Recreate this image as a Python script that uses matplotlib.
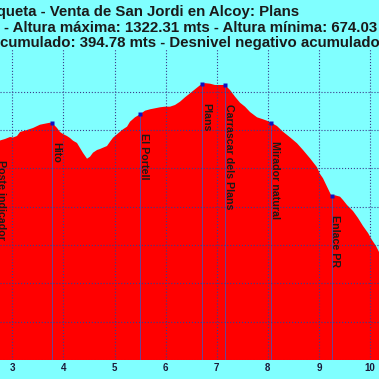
import numpy as np
import matplotlib
matplotlib.use("Agg")
from matplotlib import pyplot as plt

# profile: distance (km) / altitude (m)
dist_km = [2.661, 2.759, 2.857, 2.955, 3.014, 3.092, 3.151, 3.288, 3.405, 3.542,
           3.679, 3.738, 3.783, 3.875, 3.933, 3.992, 4.070, 4.129, 4.188, 4.266,
           4.325, 4.384, 4.462, 4.521, 4.579, 4.658, 4.716, 4.775, 4.853, 4.912,
           4.971, 5.049, 5.108, 5.166, 5.245, 5.303, 5.401, 5.499, 5.597, 5.695,
           5.793, 5.890, 5.988, 6.086, 6.184, 6.282, 6.380, 6.478, 6.575, 6.673,
           6.712, 6.771, 6.869, 6.967, 7.065, 7.162, 7.260, 7.358, 7.456, 7.554,
           7.652, 7.789, 7.906, 7.984, 8.063, 8.180, 8.297, 8.434, 8.572, 8.689,
           8.826, 8.963, 9.022, 9.080, 9.159, 9.247, 9.315, 9.413, 9.472, 9.550,
           9.667, 9.765, 9.863, 9.961, 10.039, 10.117, 10.176, 10.274]
alt_m = [1171.4, 1172.7, 1176.6, 1181.8, 1180.5, 1184.4, 1194.9, 1200.1, 1205.3, 1213.9,
         1217.6, 1219.1, 1218.3, 1205.3, 1194.9, 1189.6, 1184.4, 1179.2, 1172.2, 1166.2,
         1153.1, 1140.1, 1125.2, 1130.4, 1140.9, 1147.9, 1150.5, 1153.9, 1158.3, 1169.5,
         1180.0, 1188.9, 1195.6, 1201.9, 1208.7, 1221.7, 1233.2, 1241.0, 1250.4, 1254.1,
         1256.7, 1259.3, 1260.9, 1260.9, 1265.3, 1273.9, 1285.4, 1295.8, 1306.3, 1316.7,
         1320.1, 1322.3, 1320.9, 1317.5, 1317.5, 1317.5, 1304.4, 1287.0, 1271.3, 1260.9,
         1247.0, 1233.2, 1228.0, 1224.3, 1219.1, 1210.5, 1195.6, 1181.0, 1165.4, 1147.9,
         1126.2, 1102.8, 1085.3, 1074.1, 1052.1, 1027.9, 1029.7, 1026.1, 1017.4, 1004.4,
         988.7, 970.5, 949.6, 931.4, 913.1, 897.4, 881.8, 855.7]

# waypoints
wp_names = ["Poste indicador", "Hito", "El Portell", "Plans",
            "Carrascar dels Plans", "Mirador natural", "Enlace PR"]
wp_km = [2.70, 3.783, 5.499, 6.712, 7.162, 8.063, 9.247]

x_ticks = [3, 4, 5, 6, 7, 8, 9, 10]
y_ticks = [600, 700, 800, 900, 1000, 1100, 1200, 1300]

title_1 = "La Boqueta - Venta de San Jordi en Alcoy: Plans"
title_2 = "- Altura máxima: 1322.31 mts - Altura mínima: 674.03 mts"
title_3a = "Desnivel positivo a"
title_3b = "cumulado: 394.78 mts - Desnivel negativo acumulado: 842.51 mts"

bg = "#80ffff"
W = H = 379

fig = plt.figure(figsize=(3.79, 3.79), dpi=100, facecolor=bg)
ax = fig.add_axes([0, (H - 360) / H, 1, (360 - 49) / H])
ax.set_facecolor(bg)

ax.fill_between(dist_km, alt_m, 600, color="#ff0000", lw=0, zorder=1)

# waypoint markers, drop lines and labels
wp_alt = np.interp(wp_km, dist_km, alt_m)
for name, k, a in zip(wp_names, wp_km, wp_alt):
    ax.plot([k, k], [600, a], color="#5050b0", lw=0.6, zorder=2)
    ax.plot(k, a, marker="s", ms=2.5, color="#1010c0", mec="none", zorder=4)
    ax.annotate(name, xy=(k, a), xytext=(2.8, -13.5), textcoords="offset points",
                rotation=270, ha="center", va="top", fontsize=7.7,
                fontweight="bold", color="#1a1a1a", family="Liberation Sans",
                annotation_clip=False, zorder=5)

ax.set_xlim(2.759, 10.176)
ax.set_ylim(600, 1411.4)
ax.set_xticks(x_ticks)
ax.set_yticks(y_ticks)
ax.set_yticklabels([])
ax.grid(True, color="#3c3c8c", ls=":", lw=0.8, zorder=3)
ax.set_axisbelow(False)
ax.tick_params(length=0, pad=2.5, labelsize=7)
for lbl in ax.get_xticklabels():
    lbl.set_fontweight("bold")
    lbl.set_family("Liberation Sans")
    lbl.set_color("#1a1a3a")
for s in ax.spines.values():
    s.set_visible(False)

tkw = dict(fontsize=10.8, fontweight="bold", color="#1a1a1a",
           family="Liberation Sans", va="baseline")
fig.text(299 / W, 1 - 16 / H, title_1, ha="right", **tkw)
fig.text(4 / W, 1 - 32 / H, title_2, ha="left", **tkw)
fig.text(0 / W, 1 - 47.5 / H, title_3a, ha="right", **tkw)
fig.text(0 / W, 1 - 47.5 / H, title_3b, ha="left", **tkw)

fig.savefig("out.png", dpi=100, facecolor=bg)
